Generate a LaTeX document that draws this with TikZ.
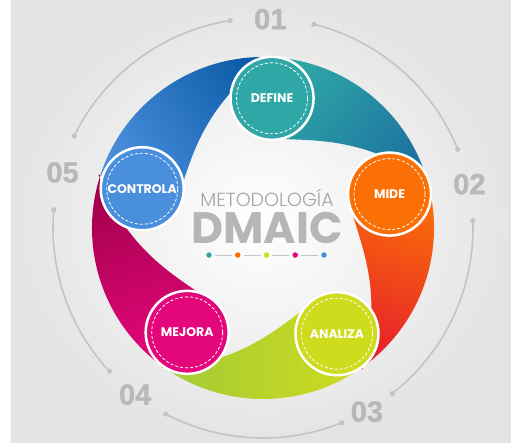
\documentclass[tikz,border=0pt]{standalone}
\usepackage{fontspec}
\usepackage{tikz}
\newfontfamily\popfont{Poppins}
\newfontfamily\thinfont{Poppins Light}
\newfontfamily\numfont{Liberation Sans Bold}[FakeBold=1.2]
\definecolor{tealcolor}{RGB}{46,167,166}
\definecolor{tealdark}{RGB}{29,115,160}
\definecolor{orangecolor}{RGB}{251,111,7}
\definecolor{reddark}{RGB}{229,32,43}
\definecolor{limecolor}{RGB}{206,220,29}
\definecolor{greendark}{RGB}{162,202,56}
\definecolor{pinkcolor}{RGB}{228,7,123}
\definecolor{crimsondark}{RGB}{163,0,76}
\definecolor{bluecolor}{RGB}{74,143,220}
\definecolor{bluedark}{RGB}{13,92,168}
\definecolor{bggray}{RGB}{228,228,228}
\definecolor{arcgray}{RGB}{196,196,196}
\definecolor{numgray}{RGB}{184,184,184}
\definecolor{titlegray}{RGB}{165,165,165}
\definecolor{dmaicgray}{RGB}{182,182,182}

\tikzset{
    stepcircle/.style={circle, draw=white, line width=2.5pt, minimum size=83pt,
        inner sep=0pt, text=white, font=\popfont\bfseries\fontsize{12.5}{12.5}\selectfont},
    ringarc/.style={arcgray, line width=1.6pt},
    numlabel/.style={text=numgray, font=\numfont\fontsize{29}{29}\selectfont},
    dotnode/.style={circle, inner sep=0pt, minimum size=5.5pt}
}

\begin{document}
\begin{tikzpicture}[x=1pt, y=1pt]
    % Background
    \fill[white] (-263,-217) rectangle (248,228);
    \shade[inner color=white, outer color=bggray] (-252,-214) rectangle (248,228);
    \useasboundingbox (-263,-217) rectangle (248,228);

    % Swirl bands: outer arc, then a spiral back to the start
    \foreach \a/\b/\ca/\cb in {162/86/bluecolor/bluedark, 86/15/tealcolor/tealdark,
        15/-55/orangecolor/reddark, -55/-126/limecolor/greendark,
        -126/-198/pinkcolor/crimsondark}
    {
        \pgfmathsetmacro\sa{(\a+\b)/2-180}
        \shade[top color=\cb, bottom color=\ca, shading angle=\sa]
            (\a:171) arc[start angle=\a, end angle=\b, radius=171]
            -- plot[domain=1:0, samples=40] ({\a+(\b-\a)*\x}:{90+83*\x*\x}) -- cycle;
    }

    % Outer gray arcs with end dots
    \foreach \s/\e in {154/99, 76/22, 2/-52, -68/-117.6, -137/-185}
    {
        \draw[ringarc] (\s:210) arc[start angle=\s, end angle=\e, radius=210];
        \fill[arcgray] (\s:210) circle[radius=2.6] (\e:210) circle[radius=2.6];
    }

    % Step numbers
    \node[numlabel] (n1) at (88:209) {01};
    \node[numlabel] (n2) at (12:211) {02};
    \node[numlabel] (n3) at (-60.5:211) {03};
    \node[numlabel] (n4) at (-127.5:210) {04};
    \node[numlabel] (n5) at (164.5:208) {05};

    % Step circles
    \node[stepcircle, fill=tealcolor] (define) at (86:130) {DEFINE};
    \node[stepcircle, fill=orangecolor] (mide) at (15:131) {MIDE};
    \node[stepcircle, fill=limecolor] (analiza) at (-55:129) {ANALIZA};
    \node[stepcircle, fill=pinkcolor] (mejora) at (-126:129) {MEJORA};
    \node[stepcircle, fill=bluecolor] (controla) at (162:127) {CONTROLA};
    \foreach \n in {define, mide, analiza, mejora, controla}
        \draw[white, line width=0.8pt, dash pattern=on 3pt off 2pt] (\n.center) circle[radius=35.5];

    % Title
    \node[anchor=base, text=titlegray, font=\thinfont\fontsize{19}{19}\selectfont] (method) at (4,22) {METODOLOGÍA};
    \node[anchor=base, text=dmaicgray, font=\popfont\bfseries\fontsize{44}{44}\selectfont] (dmaic) at (4,-15) {DMAIC};

    % Colored dots under the title
    \foreach \c [count=\i] in {tealcolor, orangecolor, limecolor, pinkcolor, bluecolor}
        \node[dotnode, fill=\c] (d\i) at ({-54+28.75*(\i-1)},-27) {};
    \foreach \i/\j in {1/2, 2/3, 3/4, 4/5}
        \draw[arcgray, line width=0.6pt, shorten <=3pt, shorten >=3pt] (d\i) -- (d\j);
\end{tikzpicture}
\end{document}
